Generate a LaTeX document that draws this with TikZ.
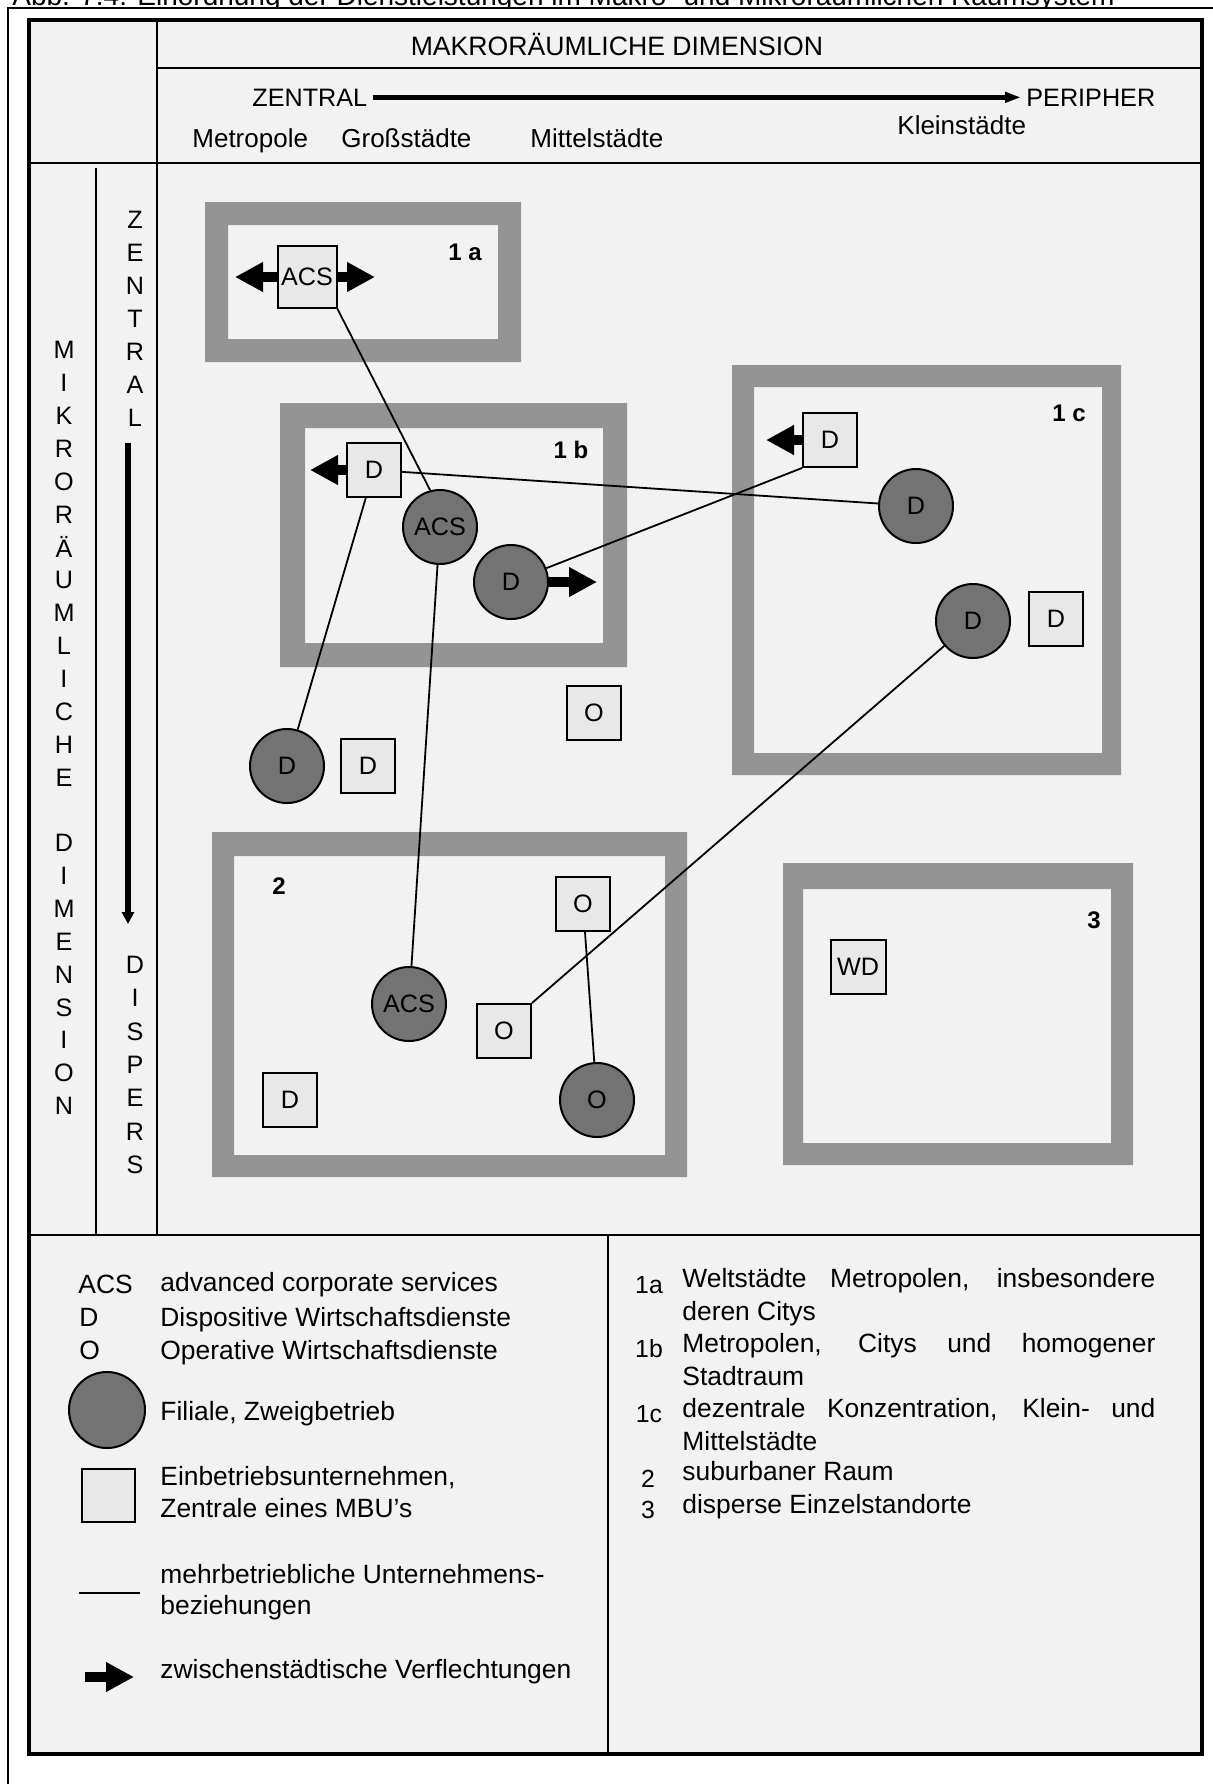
\documentclass[tikz,border=0pt]{standalone}
\usepackage{fontspec}
\setmainfont{Liberation Sans}
\usetikzlibrary{arrows.meta}

\tikzset{
  zone/.style={fill=black!42, even odd rule},
  firm/.style={draw, line width=1pt, fill=black!9, minimum width=27pt, minimum height=27pt, inner sep=0pt},
  branch/.style={circle, draw, line width=1pt, fill=black!55, minimum size=37pt, inner sep=0pt},
  link/.style={line width=0.9pt},
  flow/.style={line width=5pt, -{Triangle[length=14pt,width=14pt]}},
  frame/.style={line width=1.7pt},
  divider/.style={line width=1.2pt},
  txt/.style={anchor=base west, inner sep=0pt, font=\fontsize{13}{16}\selectfont},
  legtext/.style={anchor=base west, inner sep=0pt, font=\fontsize{13.2}{16}\selectfont},
  legnum/.style={anchor=base, inner sep=0pt, font=\fontsize{12.4}{15}\selectfont},
  zonelabel/.style={font=\fontsize{12}{14}\selectfont\bfseries}
}

\begin{document}
\begin{tikzpicture}[x=0.5pt,y=-0.5pt,font=\fontsize{12.6}{15}\selectfont]
    \useasboundingbox (0,0) rectangle (1213,1784);
    \fill[black!5] (29,20) rectangle (1202,1754);

    \begin{scope}
        \clip (0,0) rectangle (1213,8);
        \node[anchor=base west, inner sep=0pt, font=\fontsize{14}{16}\selectfont] (title) at (12,5) {Abb. 7.4: Einordnung der Dienstleistungen im Makro- und Mikroräumlichen Raumsystem};
    \end{scope}
    \draw[line width=1pt] (8,1784) -- (8,8) -- (1213,8);

    \draw[frame] (29,20) rectangle (1202,1754);
    \draw[divider] (157,20) -- (157,1235);
    \draw[divider] (157,68) -- (1202,68);
    \draw[divider] (29,163) -- (1202,163);
    \draw[divider] (96,168) -- (96,1235);
    \draw[divider] (29,1235) -- (1202,1235);
    \draw[divider] (608,1235) -- (608,1754);

    \node[font=\fontsize{13.3}{16}\selectfont] (makro) at (617,44) {MAKRORÄUMLICHE DIMENSION};
    \node[anchor=base west, inner sep=2.5pt] (zentral) at (247,106) {ZENTRAL};
    \node[anchor=base west, inner sep=2.5pt] (peripher) at (1021,106) {PERIPHER};
    \draw[line width=2.5pt, -{Triangle[length=8pt,width=5pt]}] (zentral.east) -- (peripher.west);
    \node[txt] (metropole) at (192,147) {Metropole};
    \node[txt] (gross) at (341,147) {Großstädte};
    \node[txt] (mittel) at (530,147) {Mittelstädte};
    \node[txt] (klein) at (897,134) {Kleinstädte};

    \foreach \ch [count=\i] in {M,I,K,R,O,R,Ä,U,M,L,I,C,H,E}
        \node (mik\i) at (64,317+32.9*\i) {\ch};
    \foreach \ch [count=\i] in {D,I,M,E,N,S,I,O,N}
        \node (dim\i) at (64,810+32.9*\i) {\ch};
    \foreach \ch [count=\i] in {Z,E,N,T,R,A,L}
        \node (zen\i) at (135,187+33*\i) {\ch};
    \foreach \ch [count=\i] in {D,I,S,P,E,R,S}
        \node (dis\i) at (135,931.7+33.3*\i) {\ch};
    \coordinate (ztop) at (128,443);
    \coordinate (zbot) at (128,924);
    \draw[line width=3pt, -{Triangle[length=6pt,width=6pt]}] (ztop) -- (zbot);

    \fill[zone] (205,202) rectangle (521,362) (228,225) rectangle (498,339);
    \fill[zone] (280,403) rectangle (627,667) (305,428) rectangle (603,643);
    \fill[zone] (732,365) rectangle (1121,775) (754,387) rectangle (1102,753);
    \fill[zone] (212,832) rectangle (687,1177) (234,856) rectangle (665,1155);
    \fill[zone] (783,863) rectangle (1133,1165) (803,889) rectangle (1111,1143);

    \node[zonelabel] (z1a) at (465,252) {1 a};
    \node[zonelabel] (z1b) at (571,450) {1 b};
    \node[zonelabel] (z1c) at (1069,413) {1 c};
    \node[zonelabel] (z2) at (279,886) {2};
    \node[zonelabel] (z3) at (1094,920) {3};

    \node[firm, minimum width=29.5pt, minimum height=31pt] (acs1a) at (307,277) {ACS};
    \node[firm] (d1b) at (374,470) {D};
    \node[branch] (acs1b) at (440,527) {ACS};
    \node[branch] (dc1b) at (511,582) {D};
    \node[firm] (d1c) at (830,440) {D};
    \node[branch] (dc1c) at (916,506) {D};
    \node[branch] (dc1cb) at (973,621) {D};
    \node[firm] (d1cb) at (1056,619) {D};
    \node[branch] (dcx) at (287,766) {D};
    \node[firm] (dx) at (368,766) {D};
    \node[firm] (ox) at (594,713) {O};
    \node[firm] (o2) at (583,904) {O};
    \node[branch] (acs2) at (409,1004) {ACS};
    \node[firm] (o2b) at (504,1031) {O};
    \node[branch] (oc2) at (597,1100) {O};
    \node[firm] (d2) at (290,1100) {D};
    \node[firm, minimum width=27.5pt] (wd3) at (858,967) {WD};

    \draw[link] (acs1a.south east) -- (acs1b.105);
    \draw[link] (acs1b) -- (acs2);
    \draw[link] (d1b) -- (dc1c);
    \draw[link] (dc1b) -- (d1c.south west);
    \draw[link] (d1b) -- (dcx);
    \draw[link] (o2) -- (oc2);
    \draw[link] (o2b.north east) -- (dc1cb);

    \coordinate (acs1aW) at (235,277);
    \coordinate (acs1aE) at (375,277);
    \coordinate (d1bW) at (310,470);
    \coordinate (dc1bE) at (597,582);
    \coordinate (d1cW) at (766,440);
    \draw[flow] (acs1a.west) -- (acs1aW);
    \draw[flow] (acs1a.east) -- (acs1aE);
    \draw[flow] (d1b.west) -- (d1bW);
    \draw[flow] (dc1b.east) -- (dc1bE);
    \draw[flow] (d1c.west) -- (d1cW);

    \node[legtext] (lacs) at (78,1293) {ACS};
    \node[legtext] (lacst) at (160,1291) {advanced corporate services};
    \node[legtext] (ld) at (79,1326) {D};
    \node[legtext] (ldt) at (160,1326) {Dispositive Wirtschaftsdienste};
    \node[legtext] (lo) at (79,1359) {O};
    \node[legtext] (lot) at (160,1359) {Operative Wirtschaftsdienste};
    \node[branch, minimum size=38pt] (lbranch) at (107,1410) {};
    \node[legtext] (lfil) at (160,1420) {Filiale, Zweigbetrieb};
    \node[firm, minimum width=26.5pt, minimum height=26.5pt] (lfirm) at (108,1495) {};
    \node[legtext] (leinb) at (160,1485) {Einbetriebsunternehmen,};
    \node[legtext] (lzent) at (160,1517) {Zentrale eines MBU's};
    \coordinate (llinA) at (79,1593);
    \coordinate (llinB) at (140,1593);
    \draw[link] (llinA) -- (llinB);
    \node[legtext] (lmehr) at (160,1583) {mehrbetriebliche Unternehmens-};
    \node[legtext] (lbez) at (160,1614) {beziehungen};
    \coordinate (larrA) at (85,1677);
    \coordinate (larrB) at (134,1677);
    \draw[flow] (larrA) -- (larrB);
    \node[legtext] (lzw) at (160,1678) {zwischenstädtische Verflechtungen};

    \node[legnum] (n1a) at (649,1293) {1a};
    \node[legtext] (t1a) at (682,1287) {\makebox[236.5pt][s]{Weltstädte Metropolen, insbesondere}};
    \node[legtext] (t1a2) at (682,1320) {deren Citys};
    \node[legnum] (n1b) at (649,1357) {1b};
    \node[legtext] (t1b) at (682,1352) {\makebox[236.5pt][s]{Metropolen, Citys und homogener}};
    \node[legtext] (t1b2) at (682,1385) {Stadtraum};
    \node[legnum] (n1c) at (649,1422) {1c};
    \node[legtext] (t1c) at (682,1417) {\makebox[236.5pt][s]{dezentrale Konzentration, Klein- und}};
    \node[legtext] (t1c2) at (682,1450) {Mittelstädte};
    \node[legnum] (n2) at (648,1487) {2};
    \node[legtext] (t2) at (682,1480) {suburbaner Raum};
    \node[legnum] (n3) at (648,1518) {3};
    \node[legtext] (t3) at (682,1513) {disperse Einzelstandorte};
\end{tikzpicture}
\end{document}
